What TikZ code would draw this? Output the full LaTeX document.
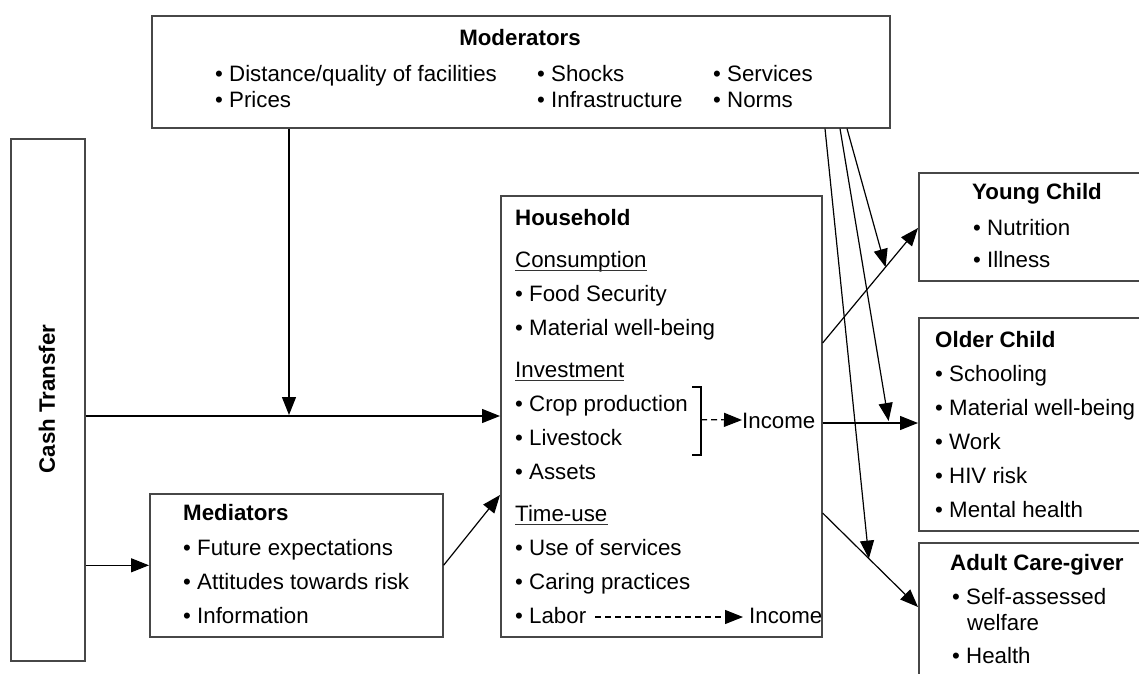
\documentclass[tikz,border=0pt]{standalone}
\usepackage{fontspec}
\setmainfont{Liberation Sans}
\usetikzlibrary{arrows.meta,calc}

\begin{document}
\begin{tikzpicture}[x=1pt,y=-1pt,
  box/.style={draw=black!72, line width=1.6pt, inner sep=0pt, anchor=north west},
  arr/.style={-{Triangle[length=18pt,width=14pt]}, line width=1.2pt},
  darr/.style={-{Triangle[length=18pt,width=14pt]}, line width=1.2pt, dash pattern=on 6pt off 4pt},
  txt/.style={anchor=base west, inner sep=0pt, font=\fontsize{22.3}{26}\selectfont},
  ttl/.style={txt, font=\fontsize{22.3}{26}\selectfont\bfseries},
  uline/.style={line width=1.3pt, draw=black!80}
]
\useasboundingbox (0,0) rectangle (1139,673);
\clip (0,0) rectangle (1139,673);

% ---- boxes ----
\node[box, minimum width=738pt, minimum height=112pt] (mod)  at (151,15)  {};
\node[box, minimum width=74pt,  minimum height=522pt] (cash) at (10,138)  {};
\node[box, minimum width=321pt, minimum height=441pt] (hh)   at (500,195) {};
\node[box, minimum width=293pt, minimum height=143pt] (med)  at (149,493) {};
\node[box, minimum width=260pt, minimum height=108pt] (yc)   at (918,172) {};
\node[box, minimum width=260pt, minimum height=213pt] (oc)   at (918,317) {};
\node[box, minimum width=260pt, minimum height=200pt] (ad)   at (918,542) {};

% ---- moderators ----
\node[ttl, anchor=base] (modT) at (520,45) {Moderators};
\node[txt] (m1) at (215,81)  {• Distance/quality of facilities};
\node[txt] (m2) at (215,107) {• Prices};
\node[txt] (m3) at (537,81)  {• Shocks};
\node[txt] (m4) at (537,107) {• Infrastructure};
\node[txt] (m5) at (713,81)  {• Services};
\node[txt] (m6) at (713,107) {• Norms};

% ---- cash transfer ----
\node[ttl, anchor=center, rotate=90] (cashT) at (47,399) {Cash Transfer};

% ---- mediators ----
\node[ttl] (medT) at (183,520) {Mediators};
\node[txt] (md1) at (183,555) {• Future expectations};
\node[txt] (md2) at (183,589) {• Attitudes towards risk};
\node[txt] (md3) at (183,623) {• Information};

% ---- household ----
\node[ttl] (hhT)  at (515,225) {Household};
\node[txt] (cons) at (515,267) {Consumption};
\node[txt] (h1)   at (515,301) {• Food Security};
\node[txt] (h2)   at (515,335) {• Material well-being};
\node[txt] (inv)  at (515,377) {Investment};
\node[txt] (h3)   at (515,411) {• Crop production};
\node[txt] (h4)   at (515,445) {• Livestock};
\node[txt] (h5)   at (515,479) {• Assets};
\node[txt] (tu)   at (515,521) {Time-use};
\node[txt] (h6)   at (515,555) {• Use of services};
\node[txt] (h7)   at (515,589) {• Caring practices};
\node[txt] (labor) at (515,623) {• Labor};
\node[txt] (inc1) at (742,428) {Income};
\node[txt] (inc2) at (749,623) {Income};

\foreach \n in {cons,inv,tu}
  \draw[uline] ($(\n.base west)+(0,3.5)$) -- ($(\n.base east)+(0,3.5)$);

% bracket grouping crop production and livestock
\coordinate (brT) at (701,387);
\coordinate (brB) at (701,455);
\draw[line width=1.2pt] ($(brT)+(-9,0)$) -- (brT) -- (brB) -- ($(brB)+(-9,0)$);
\draw[darr] ($(brT)!0.48!(brB)$) -- ($(inc1.base west)+(0,-8)$);
\draw[darr] ($(labor.base east)+(9,-6)$) -- ($(inc2.base west)+(-6,-6)$);

% ---- young child ----
\node[ttl] (ycT) at (972,199) {Young Child};
\node[txt] (y1)  at (973,235) {• Nutrition};
\node[txt] (y2)  at (973,267) {• Illness};

% ---- older child ----
\node[ttl] (ocT) at (935,347) {Older Child};
\node[txt] (o1)  at (935,381) {• Schooling};
\node[txt] (o2)  at (935,415) {• Material well-being};
\node[txt] (o3)  at (935,449) {• Work};
\node[txt] (o4)  at (935,483) {• HIV risk};
\node[txt] (o5)  at (935,517) {• Mental health};

% ---- adult care-giver ----
\node[ttl] (adT) at (950,570) {Adult Care-giver};
\node[txt] (a1)  at (952,604) {• Self-assessed};
\node[txt] (a1b) at (967,630) {welfare};
\node[txt] (a2)  at (952,663) {• Health};

% ---- connectors ----
\coordinate (ctA) at ($(cash.north east)+(0,278)$);
\draw[arr] (ctA) -- (ctA -| hh.west);
\coordinate (mj) at ($(mod.south west)+(138,0)$);
\draw[arr] (mj) -- ($(mj |- ctA)+(0,-1)$);
\draw[arr] (cash.east |- med.west) -- (med.west);
\draw[arr] (med.east) -- ($(hh.north west)+(0,300)$);

\coordinate (hyA) at ($(hh.north east)+(0,148)$);
\coordinate (hyB) at ($(yc.north west)+(0,56)$);
\draw[arr] (hyA) -- (hyB);
\coordinate (hoA) at ($(hh.north east)+(0,228)$);
\draw[arr] (hoA) -- (hoA -| oc.west);
\coordinate (haA) at ($(hh.north east)+(0,318)$);
\coordinate (haB) at ($(ad.north west)+(0,65)$);
\draw[arr] (haA) -- (haB);

\coordinate (mA) at ($(mod.south west)+(674,0)$);
\coordinate (mB) at ($(mod.south west)+(689,0)$);
\coordinate (mC) at ($(mod.south west)+(696,0)$);
\draw[arr] (mA) -- ($(haA)!0.485!(haB)$);
\draw[arr] (mB) -- ($(hoA)+(66,-2)$);
\draw[arr] (mC) -- ($(hyA)!0.66!(hyB)$);
\end{tikzpicture}
\end{document}
